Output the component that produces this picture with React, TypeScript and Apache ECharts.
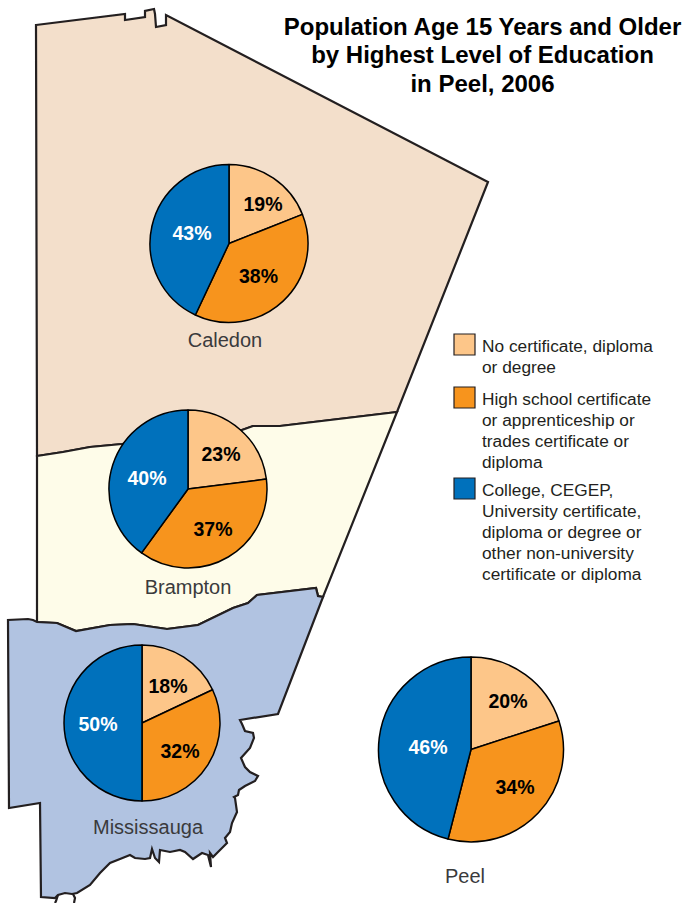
import React, { useEffect, useRef } from "react";
import * as echarts from "echarts";

const categories = [
  "No certificate, diploma or degree",
  "High school certificate or apprenticeship or trades certificate or diploma",
  "College, CEGEP, University certificate, diploma or degree or other non-university certificate or diploma",
];
const caledon = [19, 38, 43];
const brampton = [23, 37, 40];
const mississauga = [18, 32, 50];
const peel = [20, 34, 46];

const colors = ["#FDC689", "#F7941D", "#0071BC"];
const labelColors = ["#000", "#000", "#fff"];
const FONT = '"Liberation Sans", Arial, sans-serif';
const INK = "#231F20";

const pies = [
  { name: "Caledon", values: caledon, center: [229, 243.5], r: 79, labels: [[263, 204], [258.5, 276], [192, 233]] },
  { name: "Brampton", values: brampton, center: [188, 489], r: 79, labels: [[221, 454], [213, 529], [147, 478]] },
  { name: "Mississauga", values: mississauga, center: [142, 723], r: 78, labels: [[168, 686], [180, 751], [98, 724]] },
  { name: "Peel", values: peel, center: [471, 749.5], r: 92.5, labels: [[508, 701], [515, 787], [428, 747]] },
];
const regionLabels = [
  ["Caledon", 225, 340],
  ["Brampton", 188, 587],
  ["Mississauga", 148, 827],
  ["Peel", 465, 876],
];

const sharedBoundary = [[397, 412], [280, 426], [253, 426], [242, 430], [122, 444], [90, 447], [63, 452], [50, 454], [37, 456]];
const caledonOutline = [
  [36, 25], [125, 14], [125, 20], [145, 17], [145, 11], [154, 9], [155, 14], [156, 27], [166, 25], [166, 15], [488, 182],
  ...sharedBoundary,
];
const southBoundary = [
  [323, 597], [318, 596], [316, 588], [257, 595], [248, 603], [233, 608], [198, 625], [167, 629], [133, 624], [110, 625], [76, 631], [57, 623], [37, 622],
];
const bramptonOutline = [...sharedBoundary.slice().reverse(), ...southBoundary];
const mississaugaOutline = [
  ...southBoundary,
  [33, 620], [28, 619], [8, 620], [9, 808], [40, 803], [41, 897], [55, 898], [58, 895], [65, 893], [72, 894], [77, 893],
  [90, 885], [100, 873], [110, 863], [120, 859], [130, 855], [135, 858], [145, 859], [150, 858], [152, 849], [155, 858], [159, 862],
  [160, 850], [170, 852], [180, 850], [185, 852], [193, 859], [202, 853], [208, 855], [211, 867], [210, 853], [213, 857], [218, 852],
  [227, 843], [225, 838], [230, 832], [232, 823], [237, 812], [235, 798], [234, 797], [238, 795], [239, 790], [245, 786], [255, 781],
  [258, 776], [250, 772], [245, 767], [241, 758], [250, 748], [254, 738], [253, 733], [245, 731], [242, 724], [240, 720], [278, 714],
];
const bottomNotch = [[58, 895], [56, 901], [55, 903]];
const bottomNotchEast = [[73, 894], [75, 898], [74, 903]];
const legendLines = [
  { y: 335.5, swatch: 334, text: "No certificate, diploma\nor degree" },
  { y: 388.5, swatch: 387, text: "High school certificate\nor apprenticeship or\ntrades certificate or\ndiploma" },
  { y: 479.5, swatch: 478, text: "College, CEGEP,\nUniversity certificate,\ndiploma or degree or\nother non-university\ncertificate or diploma" },
];

function region(points: number[][], fill: string) {
  return {
    type: "polygon",
    shape: { points },
    style: { fill, stroke: INK, lineWidth: 2.2, lineJoin: "miter" },
  };
}
function stub(points: number[][]) {
  return { type: "polyline", shape: { points }, style: { fill: "none", stroke: INK, lineWidth: 2.2 } };
}

export default function App() {
  const ref = useRef<HTMLDivElement>(null);
  useEffect(() => {
    document.body.style.margin = "0";
    const chart = echarts.init(ref.current!, null, { renderer: "svg" });
    chart.setOption({
      animation: false,
      backgroundColor: "#fff",
      title: [
        {
          text: "Population Age 15 Years and Older\nby Highest Level of Education\nin Peel, 2006",
          left: 477.5,
          top: 7,
          textAlign: "center",
          textStyle: { fontFamily: FONT, fontSize: 24, fontWeight: "bold", color: "#000", lineHeight: 28.5 },
        },
      ],
      graphic: [
        region(caledonOutline, "#F3DFCB"),
        region(bramptonOutline, "#FEFCE9"),
        region(mississaugaOutline, "#B1C3E1"),
        stub(bottomNotch),
        stub(bottomNotchEast),
        ...regionLabels.map(([text, x, y]) => ({
          type: "text",
          z: 10,
          style: { text, x, y, fill: "#3A3A3C", font: `20px ${FONT}`, textAlign: "center", textVerticalAlign: "middle" },
        })),
        ...legendLines.flatMap((l, i) => [
          {
            type: "rect",
            shape: { x: 454, y: l.swatch, width: 21, height: 21 },
            style: { fill: colors[i], stroke: INK, lineWidth: 1.2 },
          },
          {
            type: "text",
            style: { text: l.text, x: 482, y: l.y, fill: "#231F20", font: `17.3px ${FONT}`, lineHeight: 20.9, textAlign: "left", textVerticalAlign: "top" },
          },
        ]),
      ],
      series: pies.map((p) => ({
        type: "pie",
        name: p.name,
        center: p.center,
        radius: p.r,
        startAngle: 90,
        clockwise: true,
        silent: true,
        avoidLabelOverlap: false,
        itemStyle: { borderColor: "#000", borderWidth: 1.5 },
        label: { show: true, position: "inside", formatter: "{c}%", fontFamily: FONT, fontSize: 19.5, fontWeight: "bold" },
        labelLine: { show: false },
        labelLayout: (params: any) => ({
          x: p.labels[params.dataIndex][0],
          y: p.labels[params.dataIndex][1],
          align: "center",
          verticalAlign: "middle",
        }),
        data: p.values.map((value, i) => ({
          name: categories[i],
          value,
          itemStyle: { color: colors[i] },
          label: { color: labelColors[i] },
        })),
      })),
    });
    return () => chart.dispose();
  }, []);
  return <div ref={ref} style={{ width: 684, height: 903 }} />;
}
